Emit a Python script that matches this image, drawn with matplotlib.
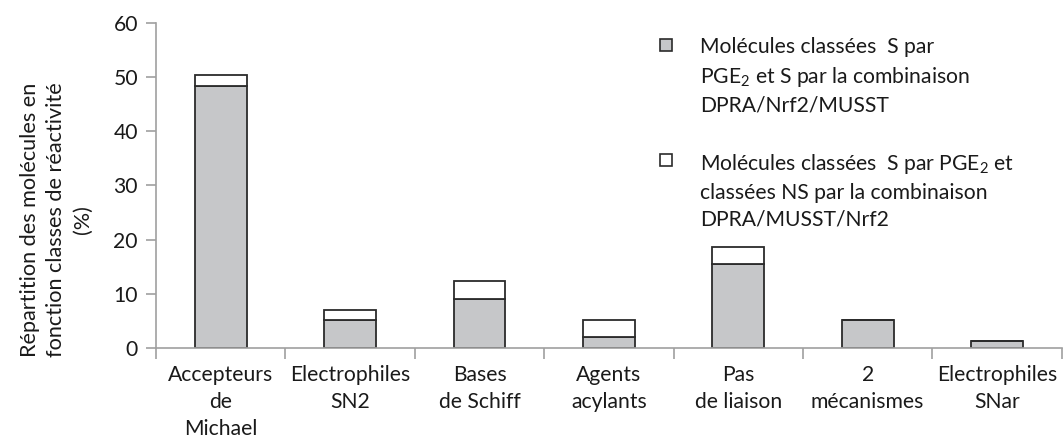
import matplotlib
matplotlib.use("Agg")
import matplotlib.pyplot as plt
import numpy as np

plt.rcParams['font.family'] = ['Lato', 'DejaVu Sans']
plt.rcParams['mathtext.fontset'] = 'custom'
plt.rcParams['mathtext.rm'] = 'Lato'
plt.rcParams['mathtext.it'] = 'Lato:italic'

categories = ["Accepteurs\nde\nMichael", "Electrophiles\nSN2", "Bases\nde Schiff",
              "Agents\nacylants", "Pas\nde liaison", "2\nmécanismes", "Electrophiles\nSNar"]
# % of molecules classed S by PGE2 and S by DPRA/Nrf2/MUSST
s_and_s = [48.4, 5.2, 9.1, 2.0, 15.5, 5.2, 1.2]
# % of molecules classed S by PGE2 but NS by the combination
s_and_ns = [2.0, 1.9, 3.3, 3.2, 3.1, 0.0, 0.0]

y_ticks = [0, 10, 20, 30, 40, 50, 60]

gray = "#c6c7c9"
edge = "#2b2b2b"
axis_col = "#a0a0a0"
txt_col = "#1a1a1a"
fs = 15.2

fig = plt.figure(figsize=(10.63, 4.38), dpi=100)
ax = fig.add_axes([0.1468, 0.2055, 0.852, 0.742])

x = np.arange(len(categories))
ax.bar(x, s_and_s, width=0.4, color=gray, edgecolor=edge, linewidth=1.3)
ax.bar(x, s_and_ns, width=0.4, bottom=s_and_s, color="white", edgecolor=edge, linewidth=1.3)

ax.set_xlim(-0.5, len(categories) - 0.5)
ax.set_ylim(0, 60)
ax.set_yticks(y_ticks)
ax.set_yticklabels([str(v) for v in y_ticks], fontsize=fs, color=txt_col)

# category labels centred, tick marks at category boundaries
ax.set_xticks(np.arange(len(categories) + 1) - 0.5)
ax.set_xticklabels([])
ax.set_xticks(x, minor=True)
ax.set_xticklabels(categories, minor=True, fontsize=fs, color=txt_col, linespacing=1.45)
ax.tick_params(axis="x", which="minor", length=0, pad=12)
ax.tick_params(axis="x", which="major", length=8, color=axis_col, width=1.2)
ax.tick_params(axis="y", length=7, color=axis_col, width=1.2, pad=6)

for s in ["top", "right"]:
    ax.spines[s].set_visible(False)
for s in ["left", "bottom"]:
    ax.spines[s].set_color(axis_col)
    ax.spines[s].set_linewidth(1.2)

fig.text(56 / 1063, 1 - 220 / 438,
         "Répartition des molécules en\nfonction classes de réactivité\n(%)",
         rotation=90, ha="center", va="center", fontsize=fs + 0.4, color=txt_col,
         linespacing=1.4, multialignment="center")

# legend drawn as marker squares with wrapped text
def legend_entry(y_px, color, lines):
    fy = 1 - y_px / 438
    fig.patches.append(plt.Rectangle((660 / 1063, fy - 0.014), 12 / 1063, 12 / 438,
                                     transform=fig.transFigure, facecolor=color,
                                     edgecolor=edge, linewidth=1.2))
    fig.text(700 / 1063, fy + 0.018, "\n".join(lines), fontsize=fs, color=txt_col,
             va="top", ha="left", linespacing=1.42)

legend_entry(45, gray, ["Molécules classées  S par",
                        "PGE$_2$ et S par la combinaison",
                        "DPRA/Nrf2/MUSST"])
legend_entry(160, "white", ["Molécules classées  S par PGE$_2$ et",
                            "classées NS par la combinaison",
                            "DPRA/MUSST/Nrf2"])

fig.savefig("out.png", dpi=100)
